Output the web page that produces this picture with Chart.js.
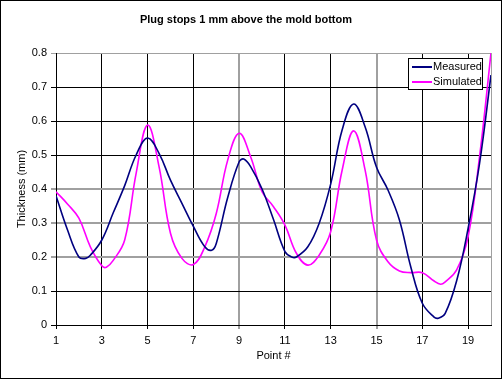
<!DOCTYPE html>
<html>
<head>
<meta charset="utf-8">
<script src="https://cdn.jsdelivr.net/npm/chart.js@4.4.0/dist/chart.umd.min.js"></script>
<style>
    body { margin: 0; background: #fff; }
    #wrap { width: 502px; height: 379px; border: 1px solid #000; box-sizing: border-box; }
</style>
</head>
<body>
<div id="wrap"><canvas id="myChart" width="500" height="377"></canvas></div>
<script>
const xPoints = [1, 1.5, 2, 2.3, 2.5, 3, 3.5, 4, 4.5, 5, 5.5, 6, 6.5, 7, 7.5, 7.8, 8, 8.5, 9, 9.2, 9.5, 10, 10.5, 11, 11.3, 11.5, 12, 12.5, 13, 13.5, 14, 14.5, 15, 15.5, 16, 16.5, 17, 17.5, 17.7, 18, 18.5, 19, 19.5, 20];
const measured = [0.38, 0.28, 0.20, 0.196, 0.205, 0.25, 0.33, 0.41, 0.50, 0.55, 0.505, 0.426, 0.358, 0.29, 0.23, 0.22, 0.24, 0.375, 0.48, 0.488, 0.466, 0.40, 0.31, 0.216, 0.20, 0.20, 0.23, 0.30, 0.415, 0.574, 0.65, 0.583, 0.464, 0.397, 0.309, 0.17, 0.064, 0.024, 0.02, 0.034, 0.13, 0.284, 0.475, 0.735];
const xSim = [1, 1.5, 2, 2.5, 3, 3.2, 3.5, 4, 4.5, 5, 5.5, 6, 6.5, 7, 7.5, 8, 8.5, 9, 9.5, 10, 10.5, 11, 11.5, 12, 12.5, 13, 13.5, 14, 14.5, 15, 15.5, 16, 16.5, 17, 17.5, 17.8, 18, 18.5, 19, 19.5, 20];
const simulated = [0.392, 0.356, 0.314, 0.23, 0.174, 0.17, 0.19, 0.25, 0.446, 0.588, 0.466, 0.27, 0.196, 0.178, 0.23, 0.328, 0.485, 0.564, 0.495, 0.392, 0.348, 0.294, 0.211, 0.176, 0.206, 0.275, 0.456, 0.571, 0.456, 0.25, 0.186, 0.159, 0.154, 0.154, 0.13, 0.12, 0.127, 0.162, 0.26, 0.495, 0.8];
const xTicks = [1, 3, 5, 7, 9, 11, 13, 15, 17, 19];
const yTicks = [0, 0.1, 0.2, 0.3, 0.4, 0.5, 0.6, 0.7, 0.8];

const fnt = 'Liberation Sans, Arial, sans-serif';

// legend with a box, the way Excel draws it
const boxLegend = {
    id: 'boxLegend',
    afterDraw(chart) {
        const c = chart.ctx, a = chart.chartArea;
        c.save();
        // right border of the plot area
        c.strokeStyle = '#a0a0a0';
        c.lineWidth = 1;
        c.beginPath();
        c.moveTo(a.right + 0.5, a.top);
        c.lineTo(a.right + 0.5, a.bottom);
        c.stroke();

        const x = a.right - 83, y = a.top + 5, w = 74, h = 31;
        c.fillStyle = '#fff';
        c.fillRect(x, y, w, h);
        c.strokeStyle = '#000';
        c.strokeRect(x + 0.5, y + 0.5, w, h);
        c.font = '11px ' + fnt;
        c.textBaseline = 'middle';
        chart.data.datasets.forEach(function (ds, i) {
            const ly = y + 9 + i * 15;
            c.strokeStyle = ds.borderColor;
            c.lineWidth = 2;
            c.beginPath();
            c.moveTo(x + 4, ly);
            c.lineTo(x + 24, ly);
            c.stroke();
            c.fillStyle = '#000';
            c.fillText(ds.label, x + 25, ly);
        });
        c.restore();
    }
};

const grayY = [0.2, 0.3, 0.4];
const grayX = [9, 15];

new Chart(document.getElementById('myChart'), {
    type: 'line',
    data: {
        datasets: [{
            label: 'Measured',
            data: xPoints.map((x, i) => ({x: x, y: measured[i]})),
            borderColor: '#000080',
            borderWidth: 1.6,
            pointRadius: 0,
            tension: 0.4
        }, {
            label: 'Simulated',
            data: xSim.map((x, i) => ({x: x, y: simulated[i]})),
            borderColor: '#ff00ff',
            borderWidth: 1.6,
            pointRadius: 0,
            tension: 0.4
        }]
    },
    options: {
        responsive: false,
        animation: false,
        layout: { padding: { left: 0, right: 10, top: 0, bottom: 0 } },
        plugins: {
            legend: { display: false },
            tooltip: { enabled: false },
            title: {
                display: true,
                text: 'Plug stops 1 mm above the mold bottom',
                color: '#000',
                font: { family: fnt, size: 11, weight: 'bold' },
                padding: { top: 12, bottom: 26.8 }
            }
        },
        scales: {
            x: {
                type: 'linear',
                min: 1,
                max: 20,
                afterBuildTicks: s => { s.ticks = xTicks.map(v => ({value: v})); },
                afterFit: s => { s.height = 53; },
                ticks: { color: '#000', padding: 5, maxRotation: 0, font: { family: fnt, size: 11 } },
                grid: {
                    color: ctx => grayX.includes(ctx.tick && ctx.tick.value) ? '#a0a0a0' : '#000',
                    lineWidth: ctx => grayX.includes(ctx.tick && ctx.tick.value) ? 2 : 1,
                    tickLength: 4
                },
                border: { color: '#000', width: 1 },
                title: { display: true, text: 'Point #', color: '#000', font: { family: fnt, size: 11 }, padding: { top: 0, bottom: 15 } }
            },
            y: {
                min: 0,
                max: 0.8,
                afterBuildTicks: s => { s.ticks = yTicks.map(v => ({value: v})); },
                afterFit: s => { s.width = 55; },
                ticks: { color: '#000', padding: 4, font: { family: fnt, size: 11 } },
                grid: {
                    color: ctx => {
                        const v = ctx.tick && Math.round(ctx.tick.value * 10) / 10;
                        return (grayY.includes(v) || v === 0.8) ? '#a0a0a0' : '#000';
                    },
                    lineWidth: ctx => grayY.includes(ctx.tick && Math.round(ctx.tick.value * 10) / 10) ? 2 : 1,
                    tickLength: 5
                },
                border: { color: '#000', width: 1 },
                title: { display: true, text: 'Thickness (mm)', color: '#000', font: { family: fnt, size: 11 }, padding: { top: 14, bottom: 0 } }
            }
        }
    },
    plugins: [boxLegend]
});
</script>
</body>
</html>
